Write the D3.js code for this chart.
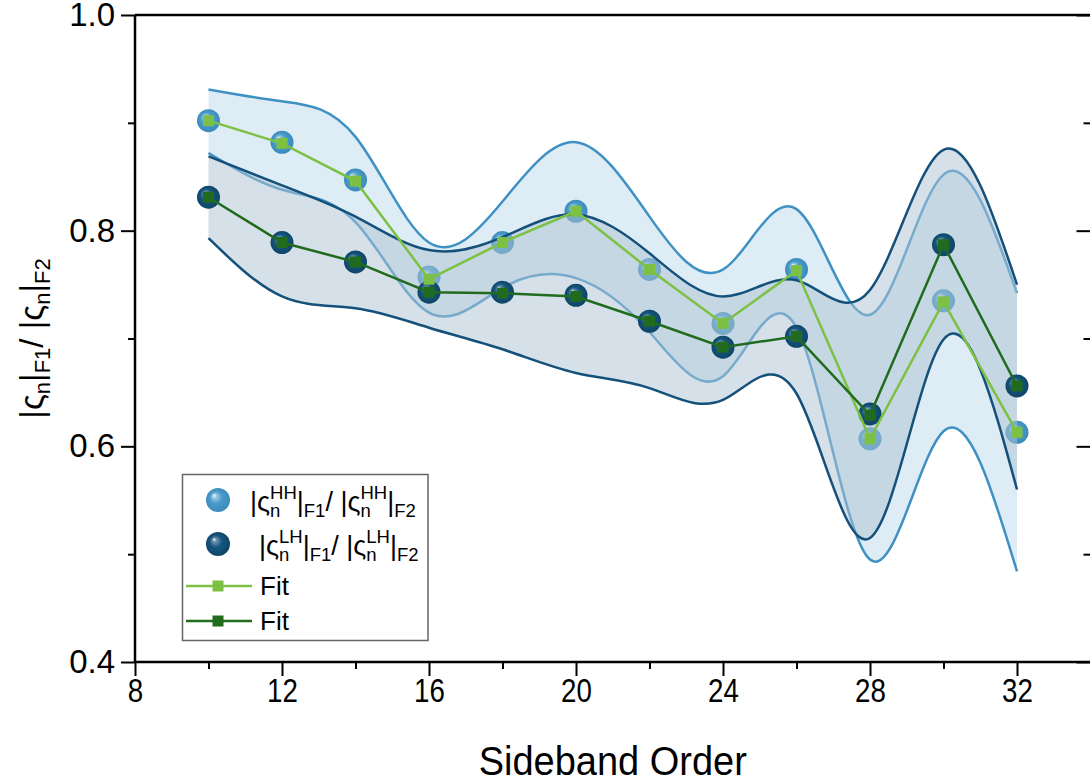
<!DOCTYPE html>
<html>
<head>
<meta charset="utf-8">
<script src="https://cdn.jsdelivr.net/npm/d3@7"></script>
<style>
  html, body { margin: 0; padding: 0; background: #fff; }
  svg { display: block; font-family: "Liberation Sans", Arial, sans-serif; }
</style>
</head>
<body>
<svg id="chart" width="1090" height="782"></svg>
<script>
// Sideband orders (x values)
const orders = [10, 12, 14, 16, 18, 20, 22, 24, 26, 28, 30, 32];

// Measured ratios |ς_n|F1 / |ς_n|F2
const hhRatio = [0.902, 0.882, 0.847, 0.757, 0.789, 0.818, 0.764, 0.714, 0.764, 0.607, 0.735, 0.613];
const lhRatio = [0.831, 0.789, 0.771, 0.743, 0.743, 0.740, 0.716, 0.692, 0.702, 0.630, 0.787, 0.656];

// Fit curves
const hhFit = [0.902, 0.881, 0.846, 0.755, 0.789, 0.818, 0.764, 0.714, 0.763, 0.607, 0.734, 0.613];
const lhFit = [0.831, 0.789, 0.771, 0.743, 0.742, 0.739, 0.716, 0.692, 0.702, 0.629, 0.787, 0.656];

// Confidence bands
const hhUpper = [0.931, 0.920, 0.887, 0.789, 0.827, 0.882, 0.813, 0.764, 0.820, 0.722, 0.852, 0.742];
const hhLower = [0.872, 0.838, 0.808, 0.724, 0.747, 0.756, 0.706, 0.665, 0.710, 0.495, 0.614, 0.484];
const lhUpper = [0.869, 0.842, 0.813, 0.782, 0.794, 0.815, 0.779, 0.739, 0.754, 0.745, 0.875, 0.750];
const lhLower = [0.793, 0.739, 0.728, 0.710, 0.690, 0.668, 0.654, 0.643, 0.649, 0.515, 0.699, 0.560];

// Axis ticks
const xMajor = [8, 12, 16, 20, 24, 28, 32];
const xMinor = [10, 14, 18, 22, 26, 30];
const yMajor = [0.4, 0.6, 0.8, 1.0];
const yMinor = [0.5, 0.7, 0.9];

const svg = d3.select("#chart");
const pLeft = 135, pRight = 1090.5, pTop = 15, pBottom = 662;

const x = d3.scaleLinear().domain([8, 34]).range([pLeft, pRight]);
const y = d3.scaleLinear().domain([0.4, 1.0]).range([pBottom, pTop]);

const C = {
  hhBase: "#4a9bca", hhLine: "#3f91c4",
  lhBase: "#15567f", lhLine: "#14507a",
  fitLight: "#7cc143", fitDark: "#216b1e"
};

// Sphere-like gradients for markers
const defs = svg.append("defs");
function sphere(id, base, edge, glow) {
  const g = defs.append("radialGradient").attr("id", id)
    .attr("cx", "0.5").attr("cy", "0.5").attr("r", "0.5")
    .attr("fx", "0.33").attr("fy", "0.3");
  g.append("stop").attr("offset", "0").attr("stop-color", "#ffffff");
  g.append("stop").attr("offset", "0.16").attr("stop-color", glow);
  g.append("stop").attr("offset", "0.5").attr("stop-color", base);
  g.append("stop").attr("offset", "1").attr("stop-color", edge);
}
sphere("gradHH", C.hhBase, "#3b8cbd", "#9fcbe6");
sphere("gradLH", C.lhBase, "#0f4466", "#6f94ad");

const band = (lo, hi) => d3.area()
  .x((d, i) => x(orders[i]))
  .y0((d, i) => y(lo[i]))
  .y1((d, i) => y(hi[i]))
  .curve(d3.curveNatural);
const smooth = d3.line()
  .x((d, i) => x(orders[i]))
  .y(d => y(d))
  .curve(d3.curveNatural);
const straight = d3.line()
  .x((d, i) => x(orders[i]))
  .y(d => y(d));

const plot = svg.append("g");

// HH band
plot.append("path").attr("d", band(hhLower, hhUpper)(orders))
  .attr("fill", C.hhBase).attr("fill-opacity", 0.18);
[hhUpper, hhLower].forEach(s => plot.append("path").attr("d", smooth(s))
  .attr("fill", "none").attr("stroke", C.hhLine).attr("stroke-width", 2.5));

// HH markers
plot.append("g").selectAll("circle").data(hhRatio).join("circle")
  .attr("cx", (d, i) => x(orders[i])).attr("cy", d => y(d))
  .attr("r", 11.5).attr("fill", "url(#gradHH)");

// LH band (translucent, laid over the HH layer)
plot.append("path").attr("d", band(lhLower, lhUpper)(orders))
  .attr("fill", "rgb(173,195,210)").attr("fill-opacity", 0.515);
[lhUpper, lhLower].forEach(s => plot.append("path").attr("d", smooth(s))
  .attr("fill", "none").attr("stroke", C.lhLine).attr("stroke-width", 2.5));

// LH markers
plot.append("g").selectAll("circle").data(lhRatio).join("circle")
  .attr("cx", (d, i) => x(orders[i])).attr("cy", d => y(d))
  .attr("r", 11.5).attr("fill", "url(#gradLH)");

// Fit lines with square markers
function fitSeries(vals, color) {
  plot.append("path").attr("d", straight(vals))
    .attr("fill", "none").attr("stroke", color).attr("stroke-width", 2.5);
  plot.append("g").selectAll("rect").data(vals).join("rect")
    .attr("x", (d, i) => x(orders[i]) - 5.5).attr("y", d => y(d) - 5.5)
    .attr("width", 11).attr("height", 11).attr("fill", color);
}
fitSeries(hhFit, C.fitLight);
fitSeries(lhFit, C.fitDark);

// Axes
const axes = svg.append("g");
function styleAxis(g) {
  g.select(".domain").remove();
  g.selectAll(".tick line").attr("stroke", "#000").attr("stroke-width", 2);
  g.selectAll(".tick text").attr("fill", "#000");
}
axes.append("g").attr("transform", `translate(0,${pBottom})`)
  .call(d3.axisBottom(x).tickValues(xMajor).tickSize(14).tickPadding(3).tickFormat(d3.format("d")))
  .call(styleAxis)
  .call(g => g.selectAll(".tick text").style("font-size", "33px")
    .attr("transform", "scale(0.84,1)"));
axes.append("g").attr("transform", `translate(0,${pBottom})`)
  .call(d3.axisBottom(x).tickValues(xMinor).tickSize(7).tickFormat(""))
  .call(styleAxis);
axes.append("g").attr("transform", `translate(${pLeft},0)`)
  .call(d3.axisLeft(y).tickValues(yMajor).tickSize(14).tickPadding(6).tickFormat(d3.format(".1f")))
  .call(styleAxis)
  .call(g => g.selectAll(".tick text").style("font-size", "33px"));
axes.append("g").attr("transform", `translate(${pLeft},0)`)
  .call(d3.axisLeft(y).tickValues(yMinor).tickSize(7).tickFormat(""))
  .call(styleAxis);
// mirrored ticks on the right side, pointing inward
axes.append("g").attr("transform", `translate(${pRight},0)`)
  .call(d3.axisLeft(y).tickValues(yMajor).tickSize(14).tickFormat(""))
  .call(styleAxis);
axes.append("g").attr("transform", `translate(${pRight},0)`)
  .call(d3.axisLeft(y).tickValues(yMinor).tickSize(7).tickFormat(""))
  .call(styleAxis);

// frame lines
axes.append("line").attr("x1", pLeft).attr("x2", pRight).attr("y1", pBottom).attr("y2", pBottom)
  .attr("stroke", "#000").attr("stroke-width", 2.5);
axes.append("line").attr("x1", pLeft).attr("x2", pRight).attr("y1", pTop).attr("y2", pTop)
  .attr("stroke", "#000").attr("stroke-width", 2.5);
axes.append("line").attr("x1", pLeft).attr("x2", pLeft).attr("y1", pTop).attr("y2", pBottom)
  .attr("stroke", "#000").attr("stroke-width", 2.5);

// Rich text with sub/superscripts
function richText(parent, parts, fs, sfs) {
  const g = parent.append("g");
  let cx = 0;
  parts.forEach(p => {
    if (p.t !== undefined) {
      const t = g.append("text").attr("x", cx).attr("y", 0)
        .style("font-size", fs + "px").text(p.t);
      cx += t.node().getComputedTextLength();
    } else {
      let w = 0;
      if (p.sup) {
        const t = g.append("text").attr("x", cx).attr("y", -fs * 0.45)
          .style("font-size", sfs + "px").text(p.sup);
        w = Math.max(w, t.node().getComputedTextLength());
      }
      if (p.sub) {
        const t = g.append("text").attr("x", cx).attr("y", fs * 0.22)
          .style("font-size", sfs + "px").text(p.sub);
        w = Math.max(w, t.node().getComputedTextLength());
      }
      cx += w;
    }
  });
  return { g, width: cx };
}

// X axis title
const xMid = (pLeft + pRight) / 2;
svg.append("text").attr("x", 0).attr("y", 0)
  .attr("text-anchor", "middle").style("font-size", "40px")
  .attr("transform", `translate(${xMid},775) scale(0.95,1)`)
  .text("Sideband Order");

// Y axis title
const yTitleWrap = svg.append("g");
const yt = richText(yTitleWrap, [
  { t: "|ς" }, { sub: "n" }, { t: "|" }, { sub: "F1" },
  { t: "/ |ς" }, { sub: "n" }, { t: "|" }, { sub: "F2" }
], 33, 22);
yt.g.attr("transform", `translate(${-yt.width / 2},0)`);
yTitleWrap.attr("transform", `translate(43,${(pTop + pBottom) / 2}) rotate(-90)`);

// Legend
const lg = svg.append("g");
lg.append("rect").attr("x", 182.5).attr("y", 474.5).attr("width", 245.5).attr("height", 166)
  .attr("fill", "#fff").attr("stroke", "#666").attr("stroke-width", 1.5);
lg.append("circle").attr("cx", 218).attr("cy", 500).attr("r", 12).attr("fill", "url(#gradHH)");
lg.append("circle").attr("cx", 218).attr("cy", 544).attr("r", 12).attr("fill", "url(#gradLH)");
const l1 = richText(lg, [
  { t: "|ς" }, { sup: "HH", sub: "n" }, { t: "|" }, { sub: "F1" },
  { t: "/ |ς" }, { sup: "HH", sub: "n" }, { t: "|" }, { sub: "F2" }
], 27, 18.5);
l1.g.attr("transform", "translate(250,511)");
const l2 = richText(lg, [
  { t: "|ς" }, { sup: "LH", sub: "n" }, { t: "|" }, { sub: "F1" },
  { t: "/ |ς" }, { sup: "LH", sub: "n" }, { t: "|" }, { sub: "F2" }
], 27, 18.5);
l2.g.attr("transform", "translate(259,555)");
[[586, C.fitLight], [621, C.fitDark]].forEach(([yy, col]) => {
  lg.append("line").attr("x1", 186).attr("x2", 252).attr("y1", yy).attr("y2", yy)
    .attr("stroke", col).attr("stroke-width", 2.5);
  lg.append("rect").attr("x", 218 - 5.5).attr("y", yy - 5.5).attr("width", 11).attr("height", 11)
    .attr("fill", col);
  lg.append("text").attr("x", 260).attr("y", yy + 9).style("font-size", "26px").text("Fit");
});
</script>
</body>
</html>
